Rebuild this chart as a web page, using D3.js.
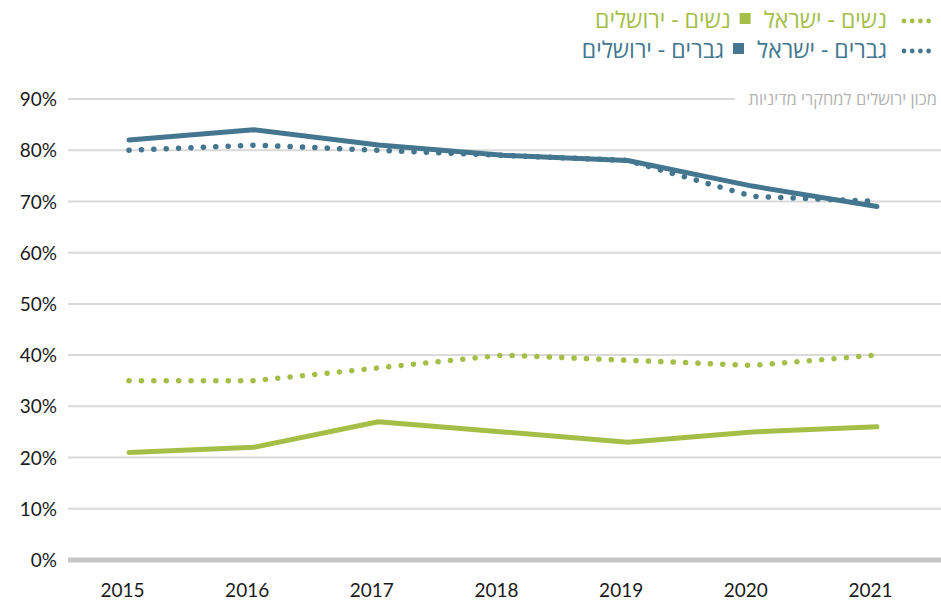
<!DOCTYPE html>
<html>
<head>
<meta charset="utf-8">
<script src="https://cdn.jsdelivr.net/npm/d3@7"></script>
<style>
  body { margin: 0; background: #fff; }
  svg text { font-family: Lato, "Open Sans", "Liberation Sans", sans-serif; }
  .heb { font-family: "Open Sans", "Liberation Sans", "DejaVu Sans", sans-serif; }
</style>
</head>
<body>
<script>
// data
var years = [2015, 2016, 2017, 2018, 2019, 2020, 2021];
var menJerusalem = [82, 84, 81, 79, 78, 73, 69];
var menIsrael = [80, 81, 80, 79, 78, 71, 70];
var womenJerusalem = [21, 22, 27, 25, 23, 25, 26];
var womenIsrael = [35, 35, 37.5, 40, 39, 38, 40];
var yTicks = [0, 10, 20, 30, 40, 50, 60, 70, 80, 90];

var GREEN = "#a4be48", BLUE = "#44778f";

var W = 941, H = 605;
var svg = d3.select("body").append("svg")
    .attr("width", W)
    .attr("height", H);

var xScale = d3.scalePoint().domain(years).range([129, 877]);
var yScale = d3.scaleLinear().domain([0, 90]).range([560, 99]);

// grid lines
svg.append("g").selectAll("line")
    .data(yTicks.filter(function (d) { return d > 0; }))
    .enter().append("line")
    .attr("x1", 68)
    .attr("x2", function (d) { return d === 90 ? 735 : W; })
    .attr("y1", function (d) { return yScale(d); })
    .attr("y2", function (d) { return yScale(d); })
    .attr("stroke", "#d9d9d9")
    .attr("stroke-width", 2);

// baseline
svg.append("line")
    .attr("x1", 68).attr("x2", W)
    .attr("y1", yScale(0)).attr("y2", yScale(0))
    .attr("stroke", "#c6c6c6")
    .attr("stroke-width", 5);

// y axis labels
var yAxis = svg.append("g")
    .attr("transform", "translate(57,0)")
    .call(d3.axisLeft(yScale).tickValues(yTicks).tickSize(0).tickPadding(0)
        .tickFormat(function (d) { return d + "%"; }));
yAxis.select(".domain").remove();
yAxis.selectAll("text")
    .attr("font-size", 19)
    .attr("fill", "#1a1a1a")
    .attr("dy", "0.35em");

// x axis labels
var xAxis = svg.append("g")
    .attr("transform", "translate(-7,583)")
    .call(d3.axisBottom(xScale).tickSize(0).tickPadding(0));
xAxis.select(".domain").remove();
xAxis.selectAll("text")
    .attr("font-size", 19)
    .attr("fill", "#1a1a1a");

// source
svg.append("text")
    .attr("class", "heb")
    .attr("x", 937).attr("y", 105)
    .attr("text-anchor", "end")
    .attr("font-size", 16.5)
    .attr("fill", "#b3b3b3")
    .text("מכון ירושלים למחקרי מדיניות");

// lines
var line = d3.line()
    .x(function (d, i) { return xScale(years[i]); })
    .y(function (d) { return yScale(d); });

function drawLine(values, color, dotted) {
    var p = svg.append("path")
        .attr("d", line(values))
        .attr("fill", "none")
        .attr("stroke", color)
        .attr("stroke-width", dotted ? 5.5 : 5)
        .attr("stroke-linejoin", "round")
        .attr("stroke-linecap", "round");
    if (dotted) p.attr("stroke-dasharray", "0.1 12.3");
}

drawLine(womenIsrael, GREEN, true);
drawLine(womenJerusalem, GREEN, false);
drawLine(menIsrael, BLUE, true);
drawLine(menJerusalem, BLUE, false);

// legend (right to left)
var legendRows = [
    {color: GREEN, y: 28, israel: "נשים - ישראל", jerusalem: "נשים - ירושלים"},
    {color: BLUE, y: 58, israel: "גברים - ישראל", jerusalem: "גברים - ירושלים"}
];

legendRows.forEach(function (r) {
    var g = svg.append("g");
    g.selectAll("circle").data([0, 1, 2, 3]).enter().append("circle")
        .attr("cx", function (d) { return 904 + d * 8.2; })
        .attr("cy", r.y - 7)
        .attr("r", 2.4)
        .attr("fill", r.color);
    var t1 = g.append("text")
        .attr("class", "heb")
        .attr("x", 887).attr("y", r.y)
        .attr("text-anchor", "end")
        .attr("font-size", 23)
        .attr("fill", r.color)
        .text(r.israel);
    var w1 = t1.node().getComputedTextLength();
    var sqRight = 887 - w1 - 13;
    g.append("rect")
        .attr("x", sqRight - 11).attr("y", r.y - 15)
        .attr("width", 11).attr("height", 11)
        .attr("fill", r.color);
    g.append("text")
        .attr("class", "heb")
        .attr("x", sqRight - 11 - 9).attr("y", r.y)
        .attr("text-anchor", "end")
        .attr("font-size", 23)
        .attr("fill", r.color)
        .text(r.jerusalem);
});
</script>
</body>
</html>
